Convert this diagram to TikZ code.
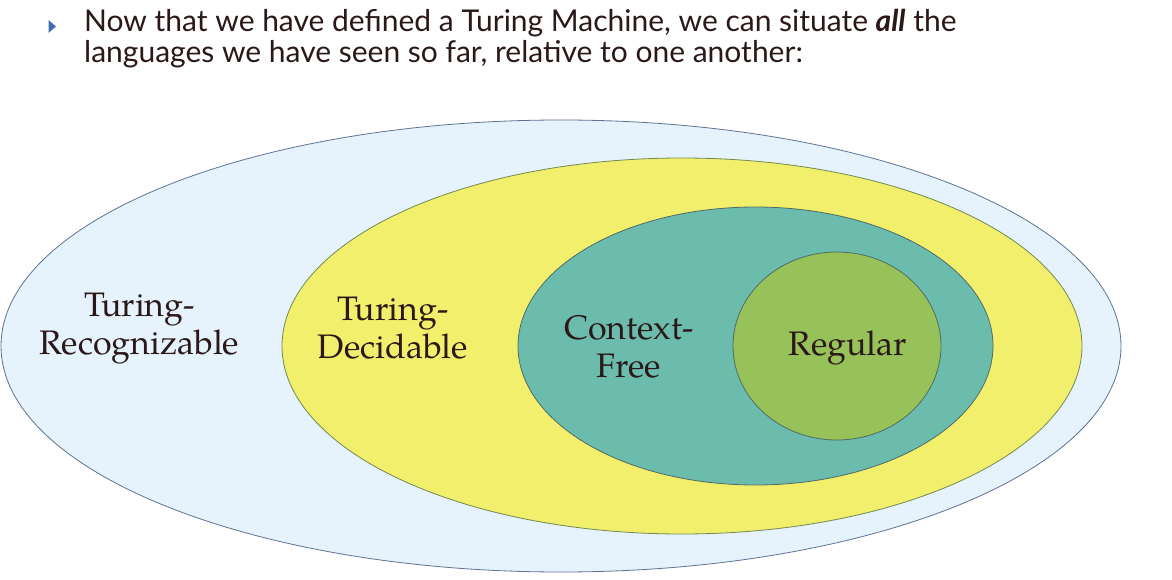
\documentclass[tikz,border=0pt]{standalone}
\usepackage{fontspec}
\setsansfont{Lato}
\setmainfont{texgyrepagella}[Extension=.otf,UprightFont=*-regular,BoldFont=*-bold,ItalicFont=*-italic,BoldItalicFont=*-bolditalic]
\begin{document}
\definecolor{ink}{HTML}{2B1818}
\definecolor{bulletblue}{HTML}{3F6FAE}
\definecolor{recfill}{HTML}{E6F3FC}
\definecolor{recline}{HTML}{5E7394}
\definecolor{decfill}{HTML}{F2EF6C}
\definecolor{cffill}{HTML}{6CBCAE}
\definecolor{regfill}{HTML}{97C159}
\definecolor{setline}{HTML}{4F6B66}
\begin{tikzpicture}[x=1pt,y=-1pt,
  titleline/.style={anchor=base west,inner sep=0pt,text=ink,
    font=\sffamily\fontsize{30}{30}\selectfont},
  setlabel/.style={align=center,inner sep=0pt,text=ink,
    font=\rmfamily\fontsize{34}{38}\selectfont},
  setshape/.style={line width=0.8pt}]
\useasboundingbox (0,0) rectangle (1172,580);
\fill[white] (0,0) rectangle (1172,580);

% heading with its bullet
\fill[bulletblue] (48.5,20) -- (56,26.5) -- (48.5,33) -- cycle;
\node[titleline] (line1) at (84,32)
  {Now that we have defined a Turing Machine, we can situate \textbf{\textit{all}} the};
\node[titleline] (line2) at (84,63)
  {languages we have seen so far, relative to one another:};

% nested language classes
\draw[setshape,draw=recline,fill=recfill] (561,346) ellipse [x radius=560, y radius=226];
\draw[setshape,draw=setline!80!yellow,fill=decfill] (682,346) ellipse [x radius=400, y radius=188];
\draw[setshape,draw=setline,fill=cffill] (755.5,346) ellipse [x radius=237.5, y radius=139];
\draw[setshape,draw=setline,fill=regfill] (837,346) ellipse [x radius=104, y radius=94];

% class names
\node[setlabel] (rec) at (139.5,329) {Turing-\\Recognizable};
\node[setlabel] (dec) at (393,328) {Turing-\\Decidable};
\node[setlabel] (cf) at (629,347) {Context-\\Free};
\node[setlabel] (reg) at (848,348) {Regular};
\end{tikzpicture}
\end{document}
